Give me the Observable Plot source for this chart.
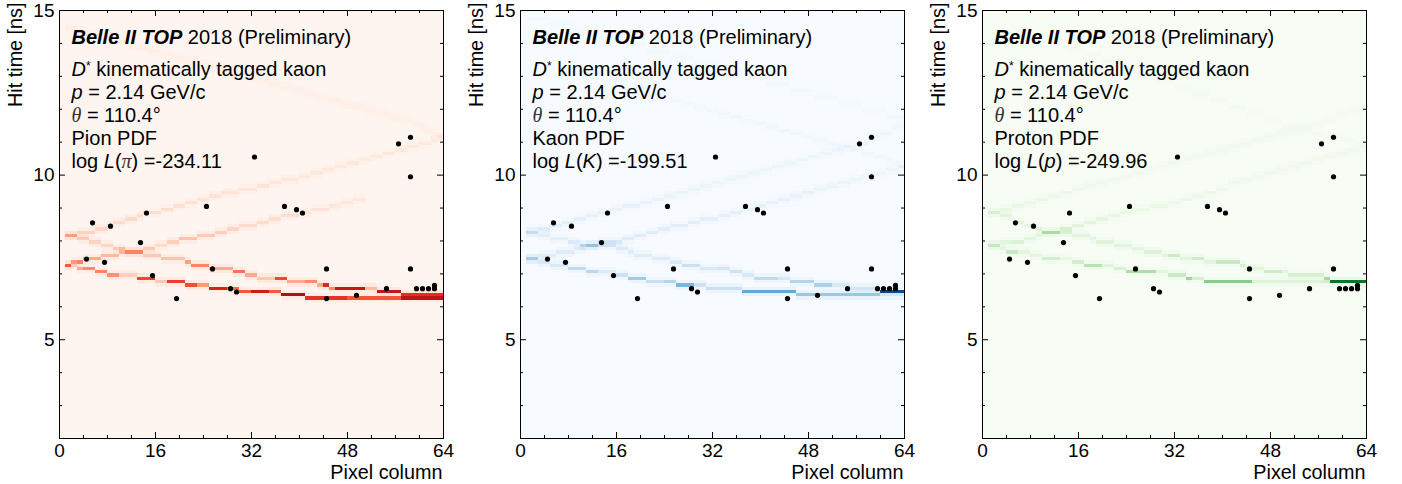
<!DOCTYPE html>
<html><head><meta charset="utf-8">
<script src="https://cdn.jsdelivr.net/npm/d3@7"></script>
<script src="https://cdn.jsdelivr.net/npm/@observablehq/plot@0.6"></script>
<style>
html,body{margin:0;padding:0;background:#fff}
#wrap{position:relative;width:1402px;height:484px;overflow:hidden}
#wrap svg{position:absolute;top:0;overflow:visible}
</style></head><body><div id="wrap"></div>
<script>
// Hits (same in every panel): pixel column and hit time [ns]
const hitColumn = [4,5,7,8,13,14,15,19,24,25,28,29,32,37,39,40,44,44,49,54,56,58,58,58,59,60,61,62,62];
const hitTime = [7.45,8.55,7.35,8.45,7.95,8.85,6.95,6.25,9.05,7.15,6.55,6.45,10.55,9.05,8.95,8.85,7.15,6.25,6.35,6.55,10.95,11.15,9.95,7.15,6.55,6.55,6.55,6.55,6.65];

// PDF tracks: runs of [first column, time bin (0.1 ns), density, density in neighbouring bins]
const pionA = [[1,81,.17,.05],[3,82,.17,.045],[6,83,.15,.045],[8,84,.13,.04],[9,85,.13,.04],[11,86,.14,.04],[13,87,.12,.04],[14,88,.12,.03],[17,89,.12,.03],[19,90,.11,.03],[21,91,.11,.03],[23,92,.1,.025],[25,93,.1,.025],[27,94,.1,.025],[30,95,.09,.025],[33,96,.09,.025],[35,97,.09,.025],[37,98,.08,.025],[40,99,.08,.025],[42,100,.08,.025],[44,101,.08,.025],[46,102,.07,.02],[48,103,.07,.02],[50,104,.07,.02],[52,105,.07,.02],[54,106,.07,.02],[56,107,.07,.02],[58,108,.07,.02],[60,109,.07,.02],[62,110,.07,.02],[63,111,.07,.02],[64]];
const pionB = [[1,81,.17,.05],[3,80,.2,.05],[5,79,.17,.045],[7,78,.15,.045],[9,77,.2,.05],[11,76,.2,.05],[14,75,.2,.05],[17,74,.22,.05],[21,73,.33,.065],[22,72,.42,.065],[25,71,.3,.065],[29,70,.47,.065],[31,69,.3,.065],[33,68,.2,.065],[36,68,.6,.065],[38,67,.3,.065],[41,67,.4,.065],[43,66,.3,.065],[44,66,.7,.05],[45,65,.4,.065],[46,65,.78,.05],[51,65,.25,.065],[53,64,.78,.065],[57,63,.62,.08],[64]];
const pionC = [[1,72,.2,.05],[2,73,.3,.05],[3,73,.42,.05],[4,74,.3,.05],[7,75,.25,.05],[10,76,.22,.05],[14,77,.2,.05],[16,78,.13,.045],[18,79,.18,.045],[20,80,.22,.045],[23,81,.2,.045],[26,82,.18,.045],[28,83,.16,.045],[30,84,.14,.04],[33,85,.14,.04],[35,86,.12,.04],[37,87,.12,.03],[40,88,.1,.03],[42,89,.1,.03],[45,90,.08,.025],[47,91,.08,.025],[49,92,.07,.025],[51]];
const pionD = [[1,72,.35,.05],[2,72,.15,.05],[3,71,.3,.05],[4,71,.4,.05],[6,70,.42,.05],[8,69,.38,.05],[10,69,.18,.05],[13,68,.6,.065],[16,67,.2,.05],[18,67,.62,.05],[21,66,.58,.065],[23,66,.35,.065],[25,65,.72,.05],[28,65,.5,.05],[30,64,.55,.05],[32,64,.75,.05],[35,64,.55,.08],[37,63,.85,.05],[41,62,.66,.05],[48,62,.56,.04],[57,62,.72,.05],[64]];
const pionE = [[1,144,.04,.02],[3,143,.04,.02],[5,142,.04,.02],[7,141,.04,.02],[9,140,.04,.02],[11,139,.04,.02],[13,138,.04,.02],[15,137,.04,.02],[17,136,.035,.02],[19,135,.035,.02],[21,134,.035,.02],[23,133,.035,.02],[25,132,.035,.02],[27,131,.035,.02],[29,130,.035,.02],[31,129,.035,.02],[33,128,.035,.02],[35,127,.035,.02],[37,126,.035,.02],[39,125,.035,.02],[41,124,.035,.02],[43,123,.035,.02],[45,122,.035,.02],[47,121,.035,.02],[49,120,.035,.02],[51,119,.035,.02],[53,118,.035,.02],[55,117,.035,.02],[57,116,.035,.02],[59,115,.035,.02],[60,114,.035,.02],[61,113,.035,.02],[62,112,.035,.02],[63,111,.035,.02],[64]];

const kaonA = [[1,82,.12,.04],[3,83,.12,.03],[5,84,.1,.03],[7,85,.09,.025],[9,86,.09,.025],[11,87,.08,.025],[13,88,.08,.025],[15,89,.07,.02],[17,90,.07,.02],[20,91,.07,.02],[22,92,.07,.02],[24,93,.06,.02],[26,94,.06,.02],[28,95,.06,.02],[30,96,.05,.02],[32,97,.05,.02],[34,98,.05,.02],[36,99,.05,.02],[38,100,.05,.015],[40,101,.05,.015],[42,102,.05,.015],[44,103,.05,.015],[46,104,.05,.015],[48,105,.05,.015],[50,106,.05,.015],[52,107,.05,.015],[54,108,.05,.015],[56,109,.05,.015],[58,111,.05,.015],[60,112,.04,.015],[62,114,.04,.015],[64]];
const kaonB = [[1,82,.12,.04],[3,81,.1,.04],[5,80,.1,.03],[8,79,.13,.04],[10,78,.26,.05],[13,78,.16,.045],[16,77,.13,.04],[18,76,.12,.04],[19,75,.12,.04],[22,74,.12,.03],[25,73,.14,.04],[27,72,.22,.04],[30,71,.15,.04],[33,71,.18,.045],[35,70,.2,.045],[37,69,.15,.045],[39,68,.26,.045],[43,68,.15,.045],[45,67,.3,.045],[49,66,.33,.045],[52,66,.15,.045],[55,65,.18,.05],[59,65,.25,.05],[60,64,.85,.03],[64]];
const kaonC = [[1,74,.15,.05],[3,75,.12,.04],[6,76,.12,.04],[9,77,.12,.04],[11,78,.14,.04],[13,79,.15,.04],[17,80,.12,.04],[19,81,.12,.03],[21,82,.12,.03],[23,83,.11,.03],[25,84,.1,.03],[28,85,.1,.03],[30,86,.09,.025],[33,87,.09,.025],[35,88,.08,.025],[37,89,.08,.025],[39,90,.08,.02],[41,91,.07,.02],[43,92,.07,.02],[45,93,.07,.02],[47,94,.07,.02],[49,95,.06,.02],[51,96,.06,.02],[53,97,.06,.02],[55,98,.05,.02],[57,99,.05,.015],[59,100,.05,.015],[61,101,.05,.015],[63,102,.05,.015],[64]];
const kaonD = [[1,74,.2,.05],[3,73,.15,.045],[5,72,.14,.045],[8,71,.26,.045],[11,70,.28,.045],[13,70,.12,.04],[16,69,.2,.04],[18,68,.36,.05],[21,67,.22,.045],[24,67,.3,.045],[26,66,.46,.05],[29,66,.2,.045],[31,65,.22,.05],[37,64,.52,.065],[46,63,.38,.065],[60,63,.15,.05],[64]];
const kaonE = [[10,130,.03,.01],[14,128,.03,.01],[18,126,.03,.01],[22,124,.03,.01],[25,122,.035,.01],[27,121,.035,.01],[29,120,.035,.01],[31,119,.035,.01],[33,118,.035,.01],[35,117,.035,.01],[37,116,.035,.01],[39,115,.035,.01],[41,114,.035,.01],[43,113,.035,.01],[45,112,.035,.01],[47,111,.035,.01],[49,110,.035,.01],[51,109,.035,.01],[53,108,.035,.01],[55,107,.035,.01],[57,106,.035,.01],[59,105,.035,.01],[61,104,.035,.01],[62,103,.035,.01],[63,102,.035,.01],[64]];
const kaonG = [[1,147,.02,.01],[5,145,.02,.01],[9,143,.02,.01],[13,141,.02,.01],[17,139,.02,.01],[21,137,.02,.01],[25,135,.02,.01],[29,133,.02,.01],[33,131,.02,.01],[37,129,.02,.01],[41,127,.02,.01],[45,125,.02,.01],[49,123,.02,.01],[53,121,.02,.01],[57,119,.02,.01],[61,117,.02,.01],[64]];

const protonA = [[1,88,.1,.03],[3,89,.1,.03],[5,90,.09,.025],[7,91,.08,.025],[9,92,.08,.025],[11,93,.07,.02],[13,94,.07,.02],[15,95,.06,.02],[17,96,.06,.02],[19,97,.05,.02],[21,98,.05,.02],[23,99,.05,.015],[25,100,.04,.015],[27,101,.04,.015],[29,102,.04,.015],[31,103,.04,.015],[33,104,.04,.015],[35,105,.04,.015],[37,106,.04,.015],[39,107,.04,.015],[41,108,.04,.015],[43,109,.04,.015],[45,110,.04,.015],[47,111,.04,.015],[49,112,.03,.015],[51,113,.03,.015],[53,114,.03,.015],[55,115,.03,.015],[57,116,.03,.015],[59,118,.03,.015],[61,119,.03,.015],[63,120,.03,.015],[64]];
const protonB = [[1,88,.1,.03],[3,87,.12,.04],[5,85,.12,.03],[7,84,.12,.03],[9,83,.15,.03],[10,82,.18,.04],[13,82,.13,.04],[15,81,.13,.04],[18,80,.12,.04],[19,79,.14,.04],[22,78,.14,.04],[25,77,.12,.03],[27,76,.15,.04],[30,75,.12,.03],[31,75,.22,.04],[33,74,.13,.04],[35,74,.22,.04],[37,73,.12,.04],[39,73,.24,.04],[43,72,.18,.04],[44,71,.12,.04],[47,70,.22,.04],[50,70,.12,.03],[51,69,.18,.03],[57,68,.32,.05],[58,67,.4,.04],[64]];
const protonC = [[1,78,.13,.04],[3,79,.13,.04],[5,79,.16,.04],[7,80,.13,.04],[9,81,.13,.04],[10,82,.17,.04],[13,83,.15,.04],[15,84,.13,.04],[17,85,.12,.03],[19,86,.12,.03],[21,87,.1,.03],[23,88,.09,.025],[25,89,.08,.025],[28,90,.08,.025],[31,91,.07,.02],[33,92,.07,.02],[35,93,.07,.02],[37,94,.07,.02],[39,95,.06,.02],[41,97,.06,.02],[43,98,.05,.02],[45,99,.05,.02],[47,100,.05,.02],[49,101,.05,.015],[51,102,.05,.015],[53,103,.05,.015],[55,104,.05,.015],[57,105,.05,.015],[59,106,.05,.015],[61,107,.05,.015],[63,108,.05,.015],[64]];
const protonD = [[1,78,.12,.04],[3,77,.13,.04],[4,76,.24,.045],[6,76,.12,.03],[8,75,.12,.03],[10,74,.2,.04],[13,74,.1,.03],[15,73,.2,.04],[17,72,.3,.04],[20,72,.14,.03],[22,71,.18,.04],[24,70,.33,.04],[29,70,.12,.03],[31,69,.24,.04],[34,68,.38,.04],[35,68,.18,.04],[37,67,.44,.04],[45,67,.15,.04],[58,67,.45,.04],[64]];
const protonE = [[8,142,.025,.01],[11,140,.025,.01],[14,138,.025,.01],[17,136,.025,.01],[20,134,.025,.01],[23,132,.025,.01],[26,130,.025,.01],[29,128,.025,.01],[32,126,.025,.01],[35,124,.025,.01],[38,122,.025,.01],[41,120,.025,.01],[44,118,.025,.01],[47,116,.025,.01],[50,114,.025,.01],[53,113,.025,.01],[55,112,.025,.01],[57,111,.025,.01],[60,110,.025,.01],[62,109,.025,.01],[64]];

const xTickLabels = [0,16,32,48,64];
const xMinor = [4,8,12,20,24,28,36,40,44,52,56,60];
const yTickLabels = [5,10,15];
const yMinor = [3,4,6,7,8,9,11,12,13,14];

// Annotation lines: [text, style] pieces
const commonLines = [
  [["Belle II TOP","bi"],[" 2018 (Preliminary)",""]],
  [["D","i"],["*","sup"],[" kinematically tagged kaon",""]],
  [["p","i"],[" = 2.14 GeV/c",""]],
  [["θ","g"],[" = 110.4°",""]]
];
const lineTimes = [14.18,13.21,12.5,11.82,11.12,10.42];
const panels = [
  {left:0, scheme:"reds", tracks:[pionA,pionB,pionC,pionD,pionE],
   lines:[[["Pion PDF",""]],[["log ",""],["L","i"],["(",""],["π","g"],[") =-234.11",""]]]},
  {left:461.4, scheme:"blues", tracks:[kaonA,kaonB,kaonC,kaonD,kaonE,kaonG],
   lines:[[["Kaon PDF",""]],[["log ",""],["L","i"],["(",""],["K","i"],[") =-199.51",""]]]},
  {left:922.8, scheme:"greens", tracks:[protonA,protonB,protonC,protonD,protonE],
   lines:[[["Proton PDF",""]],[["log ",""],["L","i"],["(",""],["p","i"],[") =-249.96",""]]]}
];

const hits = hitColumn.map((c,i)=>({x:c+0.5,t:hitTime[i]}));
const W=461, H=484, FONT="Liberation Sans, Arial, sans-serif";

function cellsFrom(tracks){
  const m=new Map();
  const add=(c,b,v)=>{const k=c+"|"+b;m.set(k,(m.get(k)||0)+v)};
  for(const tr of tracks){
    for(let i=0;i<tr.length-1;i++){
      const [c0,b,v,s]=tr[i], c1=tr[i+1][0];
      for(let c=c0;c<c1;c++){add(c,b,v);add(c,b-1,s);add(c,b+1,s);}
    }
  }
  return [...m].map(([k,v])=>{const [c,b]=k.split("|").map(Number);return {c,b,v:Math.min(v,1)}});
}

const wrap=document.getElementById("wrap");
for(const p of panels){
  const lines=[...commonLines,...p.lines];
  const notes=lines.map((l,i)=>({text:l.map(s=>s[0]).join(""),t:lineTimes[i],parts:l}));
  const svg=Plot.plot({
    width:W,height:H,marginLeft:59,marginRight:18,marginTop:10,marginBottom:46,
    style:{fontFamily:FONT,background:"transparent",color:"#000"},
    x:{domain:[0,64],label:null},
    y:{domain:[2,15],label:null},
    color:{type:"linear",scheme:p.scheme,domain:[0,1]},
    marks:[
      Plot.rect([{v:0}],{x1:()=>0,x2:()=>64,y1:()=>2,y2:()=>15,fill:"v"}),
      Plot.rect(cellsFrom(p.tracks),{x1:"c",x2:d=>d.c+1,y1:d=>d.b/10,y2:d=>(d.b+1)/10,fill:"v",shapeRendering:"crispEdges",imageFilter:"blur(0.5px)"}),
      Plot.tickX(xTickLabels,{x:d=>d,insetTop:422,stroke:"#000"}),
      Plot.tickX(xTickLabels,{x:d=>d,insetBottom:422,stroke:"#000"}),
      Plot.tickX(xMinor,{x:d=>d,insetTop:425,stroke:"#000"}),
      Plot.tickX(xMinor,{x:d=>d,insetBottom:425,stroke:"#000"}),
      Plot.tickY(yTickLabels,{y:d=>d,insetRight:378,stroke:"#000"}),
      Plot.tickY(yTickLabels,{y:d=>d,insetLeft:378,stroke:"#000"}),
      Plot.tickY(yMinor,{y:d=>d,insetRight:381,stroke:"#000"}),
      Plot.tickY(yMinor,{y:d=>d,insetLeft:381,stroke:"#000"}),
      Plot.frame({stroke:"#000",strokeWidth:1}),
      Plot.dot(hits,{x:"x",y:"t",r:2.6,fill:"#000"}),
      Plot.text(notes,{x:()=>2,y:"t",text:"text",textAnchor:"start",fontSize:20,fill:"#000"}),
      Plot.axisX({ticks:xTickLabels,tickSize:0,tickPadding:5,label:null,fontSize:19,tickFormat:d=>d}),
      Plot.axisY({ticks:yTickLabels,tickSize:0,tickPadding:5,label:null,fontSize:19,tickFormat:d=>d}),
      Plot.text(["Pixel column"],{frameAnchor:"bottom-right",dx:-1,dy:34,textAnchor:"end",lineAnchor:"middle",fontSize:19.8,fill:"#000"}),
      Plot.text(["Hit time [ns]"],{frameAnchor:"top-left",rotate:-90,textAnchor:"end",lineAnchor:"middle",dx:-44,dy:-8,fontSize:19.8,fill:"#000"})
    ]
  });
  // Rich styling of annotation lines (real text, as tspans)
  const byText=new Map(notes.map(n=>[n.text,n.parts]));
  svg.querySelectorAll("text").forEach(te=>{
    const parts=byText.get(te.textContent);
    if(!parts) return;
    te.textContent="";
    te.setAttribute("style","white-space:pre");
    let shift=0;
    for(const [s,k] of parts){
      const ts=document.createElementNS("http://www.w3.org/2000/svg","tspan");
      ts.textContent=s;
      if(shift){ts.setAttribute("dy",shift);shift=0;}
      if(k==="bi"){ts.setAttribute("font-weight","bold");ts.setAttribute("font-style","italic");}
      if(k==="i"){ts.setAttribute("font-style","italic");}
      if(k==="g"){ts.setAttribute("font-style","italic");ts.setAttribute("font-family","Liberation Serif");ts.setAttribute("fill","#333");}
      if(k==="sup"){ts.setAttribute("font-size","12");ts.setAttribute("dy","-6");shift=6;}
      te.appendChild(ts);
    }
  });
  svg.style.left=p.left+"px";
  wrap.appendChild(svg);
}
</script></body></html>
